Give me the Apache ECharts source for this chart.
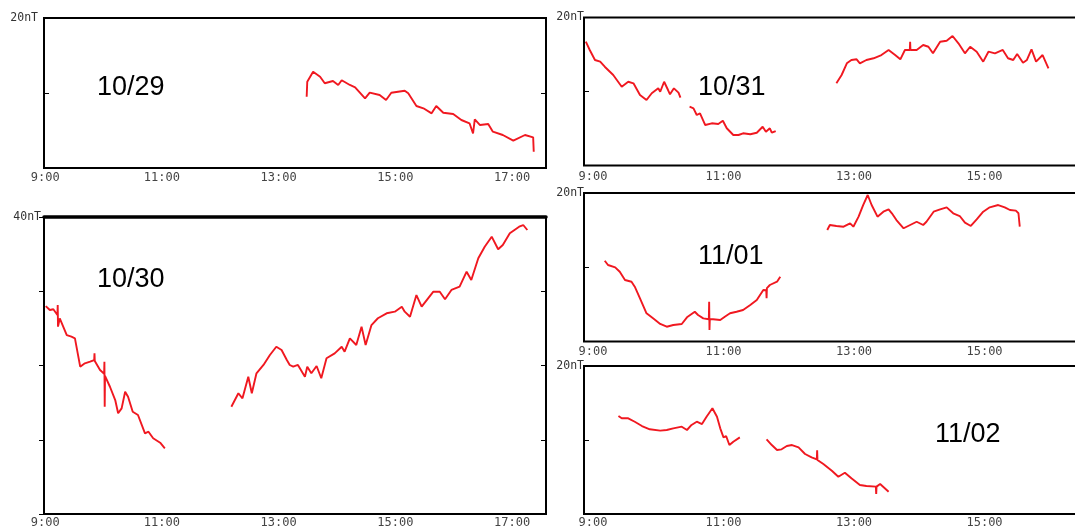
<!DOCTYPE html>
<html><head><meta charset="utf-8">
<script src="https://cdn.jsdelivr.net/npm/echarts@6/dist/echarts.min.js"></script>
<style>html,body{margin:0;padding:0;background:#fff}#c{width:1075px;height:530px}</style>
</head><body><div id="c"></div>
<script>
// ---------- DATA ----------
const tickHours = [9, 11, 13, 15, 17];
const panelDates = ['10/29', '10/30', '10/31', '11/01', '11/02'];
const scaleTop = [20, 40, 20, 20, 20];
const unit = 'nT';

const t1029 = [13.48, 13.49, 13.59, 13.71, 13.79, 13.93, 14.02, 14.08, 14.22, 14.31, 14.48, 14.56, 14.73, 14.84, 14.93, 15.16, 15.22, 15.36, 15.48, 15.62, 15.70, 15.82, 15.99, 16.13, 16.27, 16.33, 16.36, 16.45, 16.59, 16.67, 16.84, 17.02, 17.22, 17.36, 17.37];
const v1029 = [9.5, 11.5, 12.84, 12.17, 11.3, 11.6, 11.07, 11.7, 11.07, 10.76, 9.29, 10.04, 9.73, 9.07, 10.04, 10.3, 9.96, 8.27, 7.96, 7.29, 8.27, 7.37, 7.2, 6.4, 5.96, 4.6, 6.49, 5.73, 5.87, 4.84, 4.4, 3.64, 4.4, 4.09, 2.17];

const t1030 = [9.01, 9.08, 9.14, 9.21, 9.215, 9.22, 9.25, 9.37, 9.45, 9.51, 9.60, 9.68, 9.77, 9.84, 9.845, 9.85, 9.94, 10.01, 10.015, 10.02, 10.025, 10.11, 10.20, 10.25, 10.31, 10.37, 10.42, 10.50, 10.59, 10.71, 10.77, 10.85, 10.97, 11.05,
  11.6,
  12.19, 12.31, 12.38, 12.48, 12.54, 12.62, 12.74, 12.85, 12.96, 13.05, 13.14, 13.19, 13.25, 13.28, 13.33, 13.45, 13.49, 13.56, 13.65, 13.73, 13.82, 13.96, 14.08, 14.13, 14.22, 14.33, 14.42, 14.49, 14.59, 14.70, 14.85, 14.99, 15.11, 15.16, 15.25, 15.36, 15.45, 15.56, 15.65, 15.76, 15.85, 15.96, 16.10, 16.22, 16.30, 16.42, 16.53, 16.65, 16.76, 16.84, 16.96, 17.12, 17.19, 17.26];
const v1030 = [28.0, 27.47, 27.57, 26.8, 28.15, 25.23, 26.35, 24.1, 23.88, 23.66, 19.84, 20.29, 20.51, 20.74, 21.64, 20.6, 19.39, 18.9, 20.5, 14.45, 18.6, 17.14, 15.35, 13.56, 14.23, 16.47, 15.8, 13.78, 13.33, 10.87, 11.08, 10.2, 9.6, 8.85,
  null,
  14.45, 16.26, 15.58, 18.49, 16.26, 18.95, 20.07, 21.41, 22.53, 22.09, 20.74, 20.07, 19.84, 19.62, 20.07, 18.49, 19.84, 18.95, 19.93, 18.28, 20.97, 21.64, 22.53, 21.86, 23.66, 22.76, 25.23, 22.76, 25.45, 26.36, 27.03, 27.25, 27.92, 27.25, 26.57, 29.49, 27.92, 29.05, 29.94, 29.94, 28.92, 30.17, 30.61, 32.63, 31.52, 34.44, 36.0, 37.35, 35.65, 36.23, 37.8, 38.7, 38.92, 38.25];

const t1031 = [8.89, 8.95, 9.03, 9.11, 9.18, 9.31, 9.44, 9.54, 9.62, 9.72, 9.82, 9.90, 10.00, 10.03, 10.09, 10.15, 10.18, 10.24, 10.31, 10.34,
  10.41,
  10.48, 10.54, 10.59, 10.64, 10.72, 10.82, 10.92, 10.99, 11.05, 11.15, 11.23, 11.30, 11.41, 11.51, 11.60, 11.65, 11.71, 11.74, 11.80,
  12.3,
  12.73, 12.81, 12.89, 12.96, 13.04, 13.09, 13.19, 13.30, 13.42, 13.53, 13.63, 13.71, 13.78, 13.855, 13.86, 13.865, 13.96, 14.06, 14.14, 14.21, 14.32, 14.42, 14.51, 14.60, 14.70, 14.78, 14.88, 14.98, 15.06, 15.16, 15.28, 15.36, 15.44, 15.50, 15.59, 15.65, 15.72, 15.79, 15.89, 15.98];
const v1031 = [16.73, 15.61, 14.26, 14.03, 13.35, 12.23, 10.65, 11.32, 11.11, 9.53, 8.85, 9.76, 10.43, 9.97, 11.32, 10.2, 9.62, 10.43, 9.84, 9.16,
  null,
  7.95, 7.73, 6.82, 7.05, 5.47, 5.70, 5.61, 6.05, 5.03, 4.12, 4.12, 4.35, 4.22, 4.43, 5.24, 4.57, 5.03, 4.43, 4.66,
  null,
  11.11, 12.23, 13.81, 14.26, 14.35, 13.81, 14.26, 14.49, 14.93, 15.61, 14.93, 14.35, 15.61, 15.61, 16.73, 15.61, 15.61, 16.28, 16.05, 15.16, 16.73, 16.86, 17.5, 16.51, 15.16, 16.05, 15.38, 14.03, 15.38, 15.16, 15.61, 14.49, 14.26, 15.07, 13.89, 14.26, 15.7, 14.03, 14.93, 13.14];

const t1101 = [9.18, 9.23, 9.34, 9.41, 9.49, 9.59, 9.64, 9.72, 9.82, 9.92, 10.03, 10.13, 10.23, 10.36, 10.44, 10.56, 10.61, 10.69, 10.775, 10.78, 10.785, 10.79, 10.84, 10.95, 11.02, 11.10, 11.20, 11.30, 11.41, 11.51, 11.61, 11.655, 11.66, 11.665, 11.71, 11.82, 11.87,
  12.2,
  12.59, 12.63, 12.73, 12.84, 12.94, 12.99, 13.07, 13.14, 13.21, 13.27, 13.36, 13.45, 13.53, 13.58, 13.65, 13.76, 13.86, 13.96, 14.06, 14.11, 14.22, 14.32, 14.42, 14.52, 14.62, 14.70, 14.79, 14.88, 14.98, 15.08, 15.21, 15.31, 15.39, 15.48, 15.52, 15.54];
const v1101 = [10.88, 10.3, 9.99, 9.4, 8.28, 8.05, 7.38, 5.82, 3.8, 3.12, 2.36, 1.99, 2.22, 2.36, 3.26, 4.01, 3.57, 3.12, 3.0, 5.36, 1.55, 3.0, 2.99, 2.9, 3.34, 3.8, 4.01, 4.24, 4.92, 5.59, 6.94, 6.9, 5.82, 7.2, 7.61, 8.05, 8.73,
  null,
  15.02, 15.69, 15.56, 15.46, 15.92, 15.46, 16.81, 18.38, 19.73, 18.38, 16.81, 17.48, 17.8, 17.27, 16.36, 15.25, 15.69, 16.13, 15.69, 16.13, 17.48, 17.8, 18.07, 17.27, 16.9, 16.0, 15.56, 16.46, 17.48, 18.07, 18.38, 18.07, 17.71, 17.62, 17.27, 15.46];

const t1102 = [9.39, 9.44, 9.54, 9.64, 9.75, 9.87, 10.03, 10.13, 10.23, 10.36, 10.44, 10.51, 10.59, 10.67, 10.74, 10.83, 10.90, 10.95, 11.00, 11.04, 11.09, 11.15, 11.25,
  11.45,
  11.66, 11.74, 11.82, 11.89, 11.97, 12.05, 12.15, 12.25, 12.35, 12.43, 12.435, 12.44, 12.53, 12.66, 12.76, 12.86, 12.96, 13.09, 13.19, 13.335, 13.34, 13.345, 13.40, 13.53];
const v1102 = [13.24, 12.93, 12.93, 12.47, 11.89, 11.45, 11.26, 11.35, 11.58, 11.8, 11.35, 12.03, 12.47, 12.16, 13.15, 14.28, 13.15, 11.58, 10.36, 10.54, 9.32, 9.77, 10.36,
  null,
  10.09, 9.32, 8.65, 8.74, 9.19, 9.32, 9.01, 8.11, 7.66, 7.39, 8.6, 7.3, 6.75, 5.85, 5.04, 5.58, 4.82, 3.92, 3.78, 3.7, 2.7, 3.7, 4.05, 3.01];

const seriesT = [t1029, t1030, t1031, t1101, t1102];
const seriesV = [v1029, v1030, v1031, v1101, v1102];

// ---------- LAYOUT ----------
const layout = [
  { left: 44, top: 18, width: 502, height: 150, xmin: 8.98, xmax: 17.58, yInt: 10, tickIn: true, rightAxis: true, lm: 4, ylm: 6, dx: 97, dy: 88 },
  { left: 44, top: 217, width: 502, height: 297, xmin: 8.98, xmax: 17.58, yInt: 10, tickIn: false, rightAxis: true, lm: 3, ylm: 3, thickTop: true, dx: 97, dy: 280 },
  { left: 584, top: 17.5, width: 560, height: 148, xmin: 8.862, xmax: 17.444, yInt: 10, tickIn: true, lm: 5, ylm: 0, dx: 698, dy: 88 },
  { left: 584, top: 193, width: 560, height: 148.5, xmin: 8.862, xmax: 17.444, yInt: 10, tickIn: true, lm: 4, ylm: 0, dx: 698, dy: 257 },
  { left: 584, top: 366, width: 560, height: 148, xmin: 8.862, xmax: 17.444, yInt: 10, tickIn: true, lm: 3, ylm: 0, dx: 935, dy: 435 }
];

const labelFont = { fontFamily: '"DejaVu Sans Mono", monospace', fontSize: 12, color: '#444' };
const grids = [], xAxes = [], yAxes = [], series = [], texts = [];

layout.forEach((L, i) => {
  const ymax = scaleTop[i];
  grids.push({ left: L.left, top: L.top, width: L.width, height: L.height, show: true,
    borderColor: '#000', borderWidth: 2, backgroundColor: 'transparent',
    containLabel: false, outerBoundsMode: 'none' });
  const xIdx = xAxes.length;
  xAxes.push({ type: 'value', gridIndex: i, position: 'bottom', min: L.xmin, max: L.xmax,
    axisLine: { show: false, onZero: false }, axisTick: { show: false }, splitLine: { show: false },
    axisLabel: Object.assign({ customValues: tickHours, margin: L.lm, formatter: v => Math.round(v) + ':00' }, labelFont) });
  if (L.thickTop) {
    xAxes.push({ type: 'value', gridIndex: i, position: 'top', min: L.xmin, max: L.xmax,
      axisLine: { show: true, onZero: false, lineStyle: { color: '#000', width: 3.5 } }, axisTick: { show: false },
      splitLine: { show: false }, axisLabel: { show: false } });
  }
  const yIdx = yAxes.length;
  yAxes.push({ type: 'value', gridIndex: i, min: 0, max: ymax, interval: L.yInt, position: 'left',
    axisLine: { show: false, onZero: false }, splitLine: { show: false },
    axisTick: { show: true, inside: L.tickIn, length: 5, lineStyle: { color: '#000', width: 1 } },
    axisLabel: Object.assign({ showMaxLabel: true, margin: L.ylm, formatter: v => v === ymax ? ymax + unit : '' }, labelFont, { fontSize: 11.5, color: '#333' }) });
  if (L.rightAxis) {
    yAxes.push({ type: 'value', gridIndex: i, min: 0, max: ymax, interval: L.yInt, position: 'right',
      axisLine: { show: false, onZero: false }, splitLine: { show: false }, axisLabel: { show: false },
      axisTick: { show: true, inside: true, length: 5, lineStyle: { color: '#000', width: 1 } } });
  }
  const t = seriesT[i], v = seriesV[i];
  series.push({ type: 'line', xAxisIndex: xIdx, yAxisIndex: yIdx, showSymbol: false, symbol: 'none',
    connectNulls: false, clip: true,
    lineStyle: { color: '#f01820', width: 1.9 },
    data: t.map((x, k) => [x, v[k] === null ? '-' : v[k]]) });
  texts.push({ type: 'text', x: L.dx, y: L.dy, z: 10,
    style: { text: panelDates[i], font: '27px "Liberation Sans", Arial, sans-serif', fill: '#000',
      textAlign: 'left', textVerticalAlign: 'middle' } });
});

const chart = echarts.init(document.getElementById('c'), null, { renderer: 'canvas' });
chart.setOption({
  animation: false,
  backgroundColor: '#fff',
  grid: grids, xAxis: xAxes, yAxis: yAxes, series: series,
  graphic: { elements: texts }
});
</script></body></html>
